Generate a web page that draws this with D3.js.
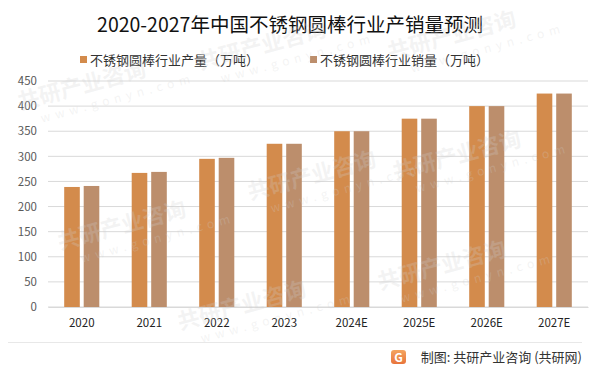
<!DOCTYPE html>
<html lang="zh">
<head>
    <meta charset="UTF-8">
    <title>2020-2027年中国不锈钢圆棒行业产销量预测</title>
    <script src="https://d3js.org/d3.v7.min.js"></script>
    <style>
        body { margin: 0; background: #fff; }
        svg text { font-family: "Noto Sans CJK SC", "Noto Sans", sans-serif; }
    </style>
</head>
<body>
    <div id="chart"></div>
    <script>
        // data
        const years = ["2020", "2021", "2022", "2023", "2024E", "2025E", "2026E", "2027E"];
        const production = [239, 267, 295, 325, 350, 375, 400, 425];
        const sales = [241, 269, 297, 325, 350, 375, 400, 425];
        const seriesNames = ["不锈钢圆棒行业产量（万吨）", "不锈钢圆棒行业销量（万吨）"];
        const colors = ["#D38B4C", "#BC8E6C"];
        const yTicks = [0, 50, 100, 150, 200, 250, 300, 350, 400, 450];

        const width = 602, height = 375;
        const margin = { top: 81, right: 14, bottom: 68, left: 48 };

        const svg = d3.select("#chart").append("svg")
            .attr("width", width)
            .attr("height", height);

        // title
        svg.append("text")
            .attr("x", 290).attr("y", 32)
            .attr("text-anchor", "middle")
            .attr("font-size", 19.5)
            .attr("fill", "#111")
            .text("2020-2027年中国不锈钢圆棒行业产销量预测");

        // legend
        const legendX = [80, 310];
        seriesNames.forEach((name, i) => {
            svg.append("rect")
                .attr("x", legendX[i]).attr("y", 56)
                .attr("width", 7).attr("height", 7)
                .attr("fill", colors[i]);
            svg.append("text")
                .attr("x", legendX[i] + 10).attr("y", 64.5)
                .attr("font-size", 13)
                .attr("fill", "#333")
                .text(name);
        });

        // scales
        const x0 = d3.scaleBand()
            .domain(years)
            .range([margin.left, width - margin.right])
            .paddingInner(0.48)
            .paddingOuter(0.24);

        const x1 = d3.scaleBand()
            .domain([0, 1])
            .range([0, x0.bandwidth()])
            .paddingInner(0.2);

        const y = d3.scaleLinear()
            .domain([0, 450])
            .range([height - margin.bottom, margin.top]);

        // grid
        svg.append("g")
            .selectAll("line")
            .data(yTicks)
            .join("line")
            .attr("x1", margin.left).attr("x2", width - margin.right)
            .attr("y1", d => y(d)).attr("y2", d => y(d))
            .attr("stroke", "#d9d9d9")
            .attr("stroke-width", 1);

        // y axis labels
        const yAxis = svg.append("g")
            .attr("transform", `translate(${margin.left},0)`)
            .call(d3.axisLeft(y).tickValues(yTicks).tickSize(0).tickPadding(11));
        yAxis.select(".domain").remove();
        yAxis.selectAll("text")
            .attr("font-size", 11.5)
            .attr("fill", "#595959")
            .style("font-family", "'Noto Sans CJK SC', sans-serif");

        // bars
        const groups = svg.append("g")
            .selectAll("g")
            .data(years.map((yr, i) => ({ yr, vals: [production[i], sales[i]] })))
            .join("g")
            .attr("transform", d => `translate(${x0(d.yr)},0)`);

        groups.selectAll("rect")
            .data(d => d.vals.map((v, i) => ({ i, v })))
            .join("rect")
            .attr("x", d => x1(d.i))
            .attr("y", d => y(d.v))
            .attr("width", x1.bandwidth())
            .attr("height", d => y(0) - y(d.v))
            .attr("fill", d => colors[d.i]);

        // x axis
        const xAxis = svg.append("g")
            .attr("transform", `translate(0,${y(0)})`)
            .call(d3.axisBottom(x0).tickSize(0).tickPadding(12));
        xAxis.select(".domain").attr("stroke", "#d9d9d9");
        xAxis.selectAll("text")
            .attr("font-size", 11.5)
            .attr("fill", "#222")
            .style("font-family", "'Noto Sans CJK SC', sans-serif");

        // footer
        svg.append("line")
            .attr("x1", 8).attr("x2", 582)
            .attr("y1", 342.5).attr("y2", 342.5)
            .attr("stroke", "#e8e8e8");

        const grad = svg.append("defs").append("linearGradient")
            .attr("id", "logoGrad").attr("x1", 0).attr("y1", 0).attr("x2", 0).attr("y2", 1);
        grad.append("stop").attr("offset", "0%").attr("stop-color", "#F4A460");
        grad.append("stop").attr("offset", "100%").attr("stop-color", "#E8743B");
        svg.append("rect")
            .attr("x", 391).attr("y", 350)
            .attr("width", 15).attr("height", 14)
            .attr("rx", 3)
            .attr("fill", "url(#logoGrad)");
        svg.append("text")
            .attr("x", 398.5).attr("y", 361.5)
            .attr("text-anchor", "middle")
            .attr("font-size", 12).attr("font-weight", "bold")
            .attr("fill", "#fff")
            .text("G");

        svg.append("text")
            .attr("x", 582).attr("y", 362)
            .attr("text-anchor", "end")
            .attr("font-size", 13)
            .attr("fill", "#333")
            .text("制图: 共研产业咨询 (共研网)");

        // faint watermark drawn on top, kept inside the picture
        const wm = svg.append("g")
            .attr("fill", "#d0d0d0")
            .attr("fill-opacity", 0.25)
            .style("pointer-events", "none");
        const wmPos = [[20, 110], [200, 70], [390, 60], [60, 250], [250, 200], [395, 180], [180, 330], [380, 290]];
        wmPos.forEach(([px, py]) => {
            const g = wm.append("g")
                .attr("transform", `translate(${px},${py}) rotate(-15)`);
            g.append("text").attr("font-size", 22).attr("font-weight", "bold").text("共研产业咨询");
            g.append("text").attr("y", 18).attr("x", 18).attr("font-size", 12)
                .attr("letter-spacing", 5).text("www.gonyn.com");
        });
    </script>
</body>
</html>
